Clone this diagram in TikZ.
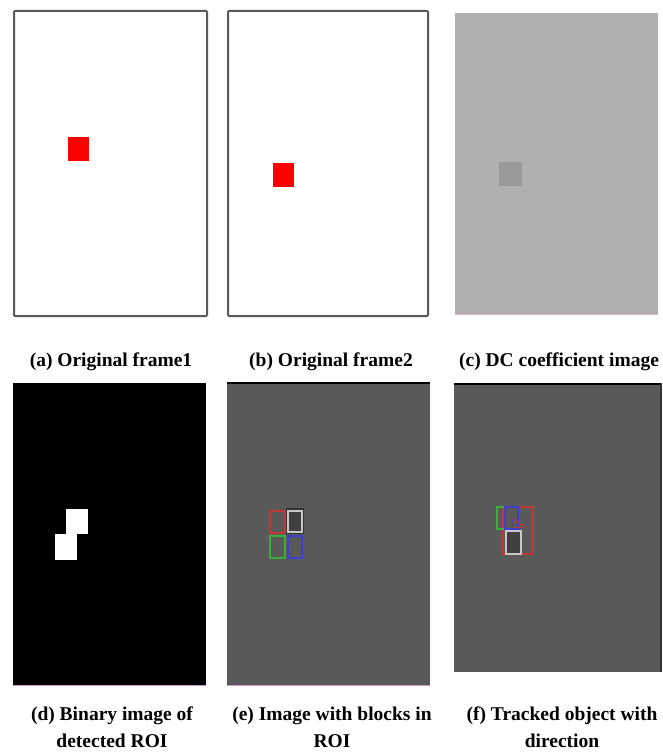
\documentclass[tikz,border=0pt]{standalone}
\usepackage{fontspec}
\setmainfont{Liberation Serif}
\definecolor{bred}{HTML}{C03838}
\definecolor{bgreen}{HTML}{38B038}
\definecolor{bblue}{HTML}{4040D0}
\definecolor{bwhite}{HTML}{C8C8C8}
\begin{document}
\begin{tikzpicture}[x=1pt,y=-1pt,
  capt/.style={font=\bfseries\fontsize{19.5}{27}\selectfont, align=center, inner sep=0pt, anchor=center},
  frame/.style={draw=black!65, line width=2pt, rounded corners=1pt, fill=white},
  blk/.style={line width=1.3pt}]
\useasboundingbox (0,0) rectangle (662,752);
\fill[white] (0,0) rectangle (662,752);

% (a)
\draw[frame] (14,11) rectangle (207,316);
\fill[red] (68,137) rectangle (89,161);
% (b)
\draw[frame] (228,11) rectangle (428,316);
\fill[red] (273,163) rectangle (294,187);
% (c)
\fill[black!31] (455,13) rectangle (658,314);
\draw[violet!30, line width=0.8pt] (455,314) -- (658,314);
\fill[black!40] (499,162) rectangle (522,186);

\node[capt] (ca) at (111,362) {(a) Original frame1};
\node[capt] (cb) at (331,362) {(b) Original frame2};
\node[capt] (cc) at (559,362) {(c) DC coefficient image};

% (d)
\fill[black] (13,383) rectangle (206,685);
\draw[violet!40, line width=0.8pt] (13,685) -- (206,685);
\fill[white] (66,509) rectangle (88,534);
\fill[white] (55,534) rectangle (77,560);

% (e)
\fill[black!65] (227,382) rectangle (430,685);
\draw[black, line width=2pt] (227,383) -- (430,383);
\draw[violet!40, line width=0.8pt] (227,685) -- (430,685);
\fill[black!80] (286,508) rectangle (304,534);
\draw[blk, bwhite, fill=black!75] (288,511) rectangle (302,532);
\draw[blk, bred] (270,511) rectangle (285,533);
\draw[blk, bgreen] (270,536) rectangle (285,558);
\draw[blk, bblue] (288,536) rectangle (302,558);

% (f)
\fill[black!65] (454,383) rectangle (662,672);
\draw[black, line width=2pt] (454,384) -- (662,384);
\draw[black!80, line width=2pt] (661,383) -- (661,672);
\draw[blk, bred] (503,507) rectangle (533,554);
\draw[blk, bwhite, fill=black!75] (506,531) rectangle (521,554);
\draw[blk, bgreen] (497,507) rectangle (505,529);
\draw[blk, bblue] (505,507) rectangle (518,529);
\draw[bred, line width=1pt] (511,518) -- (525,527);
\draw[bblue, line width=1pt] (512,519) -- (514,526);
\draw[bred, line width=1pt] (513,527) -- (524,527);

\node[capt] (cd) at (112,727) {(d) Binary image of\\detected ROI};
\node[capt] (ce) at (332,727) {(e) Image with blocks in\\ROI};
\node[capt] (cf) at (562,727) {(f) Tracked object with\\direction};
\end{tikzpicture}
\end{document}
